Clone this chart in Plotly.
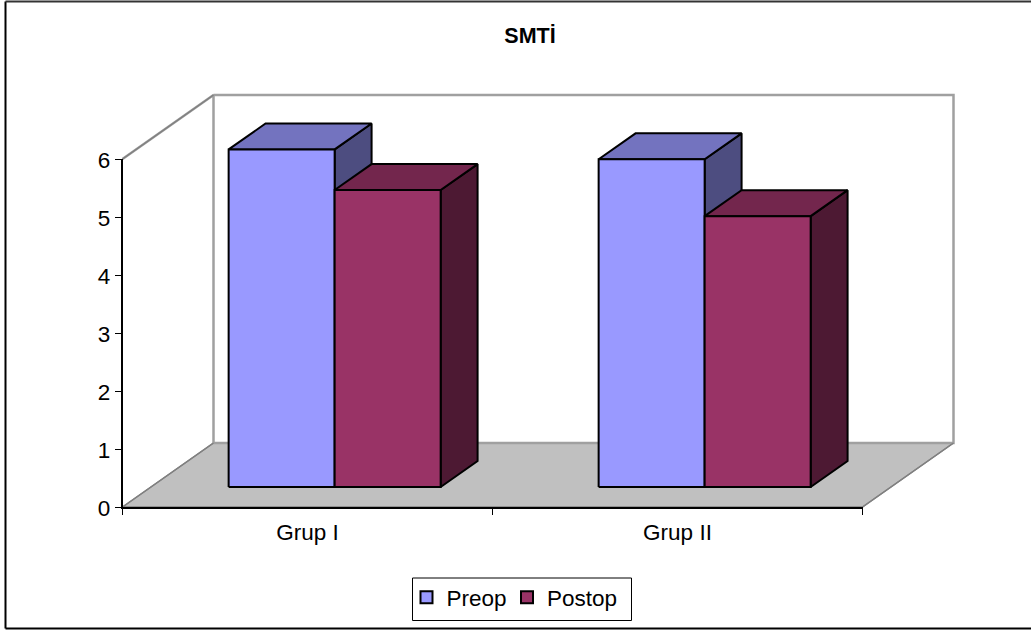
import plotly.graph_objects as go

categories = ["Grup I", "Grup II"]
series_names = ["Preop", "Postop"]
preop = [5.82, 5.65]
postop = [5.12, 4.67]
y_ticks = [0, 1, 2, 3, 4, 5, 6]
title = "SMTİ"

W, H = 1031, 632
X0, X1, Y0, Y6 = 122.5, 862.5, 507.0, 159.0
CAT_PX = (X1 - X0) / 2
VAL_PX = (Y0 - Y6) / 6
DEPTH_X = 91 / CAT_PX
DEPTH_Y = 64 / VAL_PX
FONT = "Liberation Sans, Arial, sans-serif"
FS = 22.5

FRONT = ["#9999FF", "#993366"]
TOP = ["#7373BF", "#73264D"]
SIDE = ["#4D4D80", "#4D1933"]
FLOOR = "#C0C0C0"
WALL = "#A0A0A0"
GAP = 0.21
BAR_W = 0.2865
D0 = 0.3125
D1 = D0 + 0.406


def proj(t, v, d):
    return t + d * DEPTH_X, v + d * DEPTH_Y


def poly(points, fill, line, width=2):
    xs, ys = zip(*[proj(*p) for p in points + [points[0]]])
    return go.Scatter(x=list(xs), y=list(ys), mode="lines", fill="toself",
                      fillcolor=fill, line=dict(color=line, width=width),
                      hoverinfo="skip", showlegend=False, xaxis="x", yaxis="y")


def path(points, color, width):
    xs, ys = zip(*[proj(*p) for p in points])
    return go.Scatter(x=list(xs), y=list(ys), mode="lines",
                      line=dict(color=color, width=width),
                      hoverinfo="skip", showlegend=False, xaxis="x", yaxis="y")


fig = go.Figure()
n = len(categories)
top_v = y_ticks[-1]

# floor and walls
fig.add_trace(poly([(0, 0, 0), (n, 0, 0), (n, 0, 1), (0, 0, 1)], FLOOR, "#808080", 1.5))
fig.add_trace(path([(0, top_v, 0), (0, top_v, 1), (0, 0, 1), (n, 0, 1), (n, top_v, 1), (0, top_v, 1)], WALL, 2.5))
fig.add_trace(path([(0, top_v, 0), (0, top_v, 1)], "#808080", 1.5))
fig.add_trace(path([(0, 0, 1), (0, 0, 0)], "#808080", 1.5))
fig.add_trace(path([(n, 0, 1), (n, 0, 0)], "#808080", 1.5))

# 3-D bars
for i in range(n):
    for s, vals in enumerate([preop, postop]):
        a = i + GAP + s * BAR_W
        b = a + BAR_W
        v = vals[i]
        fig.add_trace(poly([(b, 0, D0), (b, 0, D1), (b, v, D1), (b, v, D0)], SIDE[s], "black"))
        fig.add_trace(poly([(a, v, D0), (b, v, D0), (b, v, D1), (a, v, D1)], TOP[s], "black"))
        fig.add_trace(poly([(a, 0, D0), (b, 0, D0), (b, v, D0), (a, v, D0)], FRONT[s], "black"))

# real axes and legend entries (one legend per series so each can be placed exactly)
for s, name in enumerate(series_names):
    fig.add_trace(go.Scatter(x=categories, y=[None, None], mode="markers", name=name,
                             marker=dict(symbol="square", size=12, color=FRONT[s],
                                         line=dict(color="black", width=2)),
                             xaxis="x2", yaxis="y2", legend="legend" if s == 0 else "legend2"))

x_left = -X0 / CAT_PX
x_right = (W - X0) / CAT_PX
y_bottom = (Y0 - H) / VAL_PX
y_top = Y0 / VAL_PX

legend_style = dict(orientation="h", xanchor="left", y=1 - 576 / H, yanchor="top",
                    borderwidth=0, bgcolor="rgba(0,0,0,0)",
                    font=dict(family=FONT, size=FS), itemclick=False, itemdoubleclick=False)

fig.update_layout(
    width=W, height=H, margin=dict(l=0, r=0, t=0, b=0, autoexpand=False),
    paper_bgcolor="white", plot_bgcolor="rgba(0,0,0,0)",
    font=dict(family=FONT, size=FS, color="black"),
    title=dict(text="<b>" + title + "</b>", x=530 / W, xanchor="center", y=1 - 35 / H,
               yanchor="middle", font=dict(family=FONT, size=21.5, color="black")),
    xaxis=dict(domain=[0, 1], range=[x_left, x_right], visible=False, fixedrange=True),
    yaxis=dict(domain=[0, 1], range=[y_bottom, y_top], visible=False, fixedrange=True),
    xaxis2=dict(domain=[X0 / W, X1 / W], anchor="y2", type="category",
                categoryorder="array", categoryarray=categories, range=[-0.5, 1.5],
                tickson="boundaries", ticks="outside", ticklen=6, tickwidth=1, tickcolor="black",
                showline=True, linecolor="black", linewidth=1.5, showgrid=False,
                zeroline=False, fixedrange=True, tickfont=dict(size=FS), ticklabelstandoff=4),
    yaxis2=dict(domain=[(H - Y0) / H, (H - Y6) / H], anchor="x2", range=[0, 6],
                tickvals=y_ticks, ticks="outside", ticklen=6, tickwidth=1, tickcolor="black",
                showline=True, linecolor="black", linewidth=1.5, showgrid=False,
                zeroline=False, fixedrange=True, tickfont=dict(size=FS), ticklabelshift=1),
    legend=dict(x=406.5 / W, **legend_style),
    legend2=dict(x=507 / W, **legend_style),
    shapes=[
        dict(type="line", xref="paper", yref="paper", x0=5.5 / W, x1=5.5 / W, y0=1 - 1.5 / H, y1=1 - 628.5 / H,
             line=dict(color="black", width=2)),
        dict(type="line", xref="paper", yref="paper", x0=5.5 / W, x1=1, y0=1 - 1.5 / H, y1=1 - 1.5 / H,
             line=dict(color="#333333", width=2)),
        dict(type="line", xref="paper", yref="paper", x0=5.5 / W, x1=1, y0=1 - 628.5 / H, y1=1 - 628.5 / H,
             line=dict(color="black", width=2)),
        dict(type="rect", xref="paper", yref="paper", x0=412.5 / W, x1=631.5 / W, y0=1 - 578 / H, y1=1 - 620.5 / H,
             line=dict(color="black", width=1), fillcolor="rgba(0,0,0,0)"),
    ],
)

fig.write_html("out.html", config=dict(displayModeBar=False),
               post_script="document.body.style.margin='0';")
